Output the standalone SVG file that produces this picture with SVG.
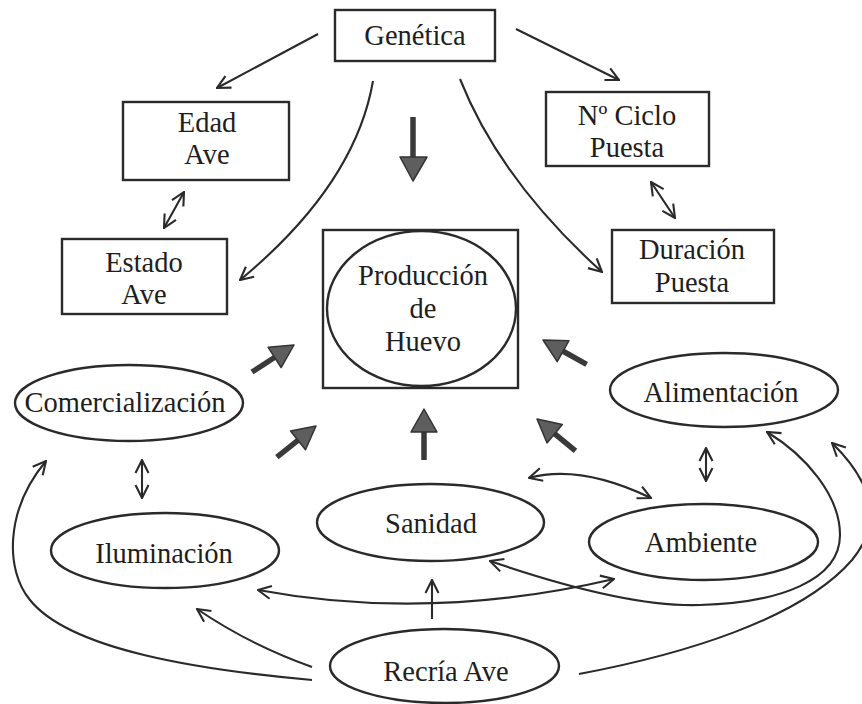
<svg xmlns="http://www.w3.org/2000/svg" width="862" height="704" viewBox="0 0 862 704">
<style>
  .box { fill: #fff; stroke: #2a2a2a; stroke-width: 2.4; }
  .ell { fill: none; stroke: #2a2a2a; stroke-width: 2.4; }
  .lbl { font-family: "Liberation Serif", "Times New Roman", serif; font-size: 28.5px; fill: #1e1e1e; text-anchor: middle; }
  .con { fill: none; stroke: #2a2a2a; stroke-width: 2.1; }
  .one { marker-end: url(#open); }
  .two { marker-start: url(#open); marker-end: url(#open); }
  .shaft { stroke: #3a3a3a; stroke-width: 5.5; }
  .head { fill: #5e5e5e; stroke: #333; stroke-width: 1.5; stroke-linejoin: round; }
</style>
<defs>
  <marker id="open" viewBox="0 0 16 16" refX="15" refY="8" markerWidth="16" markerHeight="16" markerUnits="userSpaceOnUse" orient="auto-start-reverse">
    <path d="M2,1.5 L15,8 L2,14.5" fill="none" stroke="#2a2a2a" stroke-width="2.1"/>
  </marker>
  <g id="bigArrow">
    <line class="shaft" x1="-50" y1="0" x2="-20" y2="0"/>
    <polygon class="head" points="0,0 -23,-12 -23,12"/>
  </g>
</defs>
<rect width="862" height="704" fill="#fff"/>

<g id="connectors">
  <line class="con one" x1="318" y1="34" x2="217" y2="88"/>
  <line class="con one" x1="516" y1="29" x2="619" y2="80"/>
  <path class="con one" d="M373,81 Q355,185 240,280"/>
  <path class="con one" d="M460,79 Q500,180 602,272"/>
  <line class="con two" x1="184" y1="192" x2="164" y2="228"/>
  <line class="con two" x1="651" y1="182" x2="675" y2="218"/>
  <line class="con two" x1="142" y1="460" x2="142" y2="498"/>
  <line class="con two" x1="706" y1="448" x2="706" y2="481"/>
  <path class="con two" d="M529,478 Q580,464 651,498"/>
  <path class="con two" d="M258,590 Q430,622 614,579"/>
  <line class="con one" x1="432" y1="619" x2="432" y2="580"/>
  <path class="con one" d="M312,667 Q250,645 197,609"/>
  <path class="con one" d="M312,680 C200,670 70,650 30,600 C5,570 5,510 46,461"/>
  <path class="con two" d="M490,561 C560,585 640,607 700,605 C780,603 840,580 840,535 C840,495 805,455 767,432"/>
  <path class="con one" d="M579,674 C680,655 800,620 852,560 C885,520 870,480 832,443"/>

  <g id="bigDown">
    <line class="shaft" x1="413" y1="117" x2="413" y2="160"/>
    <polygon class="head" points="413,181 400,157 427,157"/>
  </g>
  <use href="#bigArrow" transform="translate(294,345) rotate(-32.7)"/>
  <use href="#bigArrow" transform="translate(316,426) rotate(-38.5)"/>
  <g id="bigUp">
    <line class="shaft" x1="424" y1="460" x2="424" y2="428"/>
    <polygon class="head" points="424,409 411,432 437,432"/>
  </g>
  <use href="#bigArrow" transform="translate(543,340) rotate(-150.8)"/>
  <use href="#bigArrow" transform="translate(537,419) rotate(-140.3)"/>
</g>

<g id="genetica">
  <rect class="box" x="335" y="10" width="160" height="51"/>
  <text class="lbl" x="415" y="45">Genética</text>
</g>
<g id="edad-ave">
  <rect class="box" x="123" y="102" width="166" height="78"/>
  <text class="lbl" x="207" y="132">Edad</text>
  <text class="lbl" x="207" y="164">Ave</text>
</g>
<g id="estado-ave">
  <rect class="box" x="62" y="239" width="165" height="75"/>
  <text class="lbl" x="144" y="272">Estado</text>
  <text class="lbl" x="144" y="304">Ave</text>
</g>
<g id="ciclo-puesta">
  <rect class="box" x="546" y="92" width="163" height="74"/>
  <text class="lbl" x="627" y="125">Nº Ciclo</text>
  <text class="lbl" x="627" y="157">Puesta</text>
</g>
<g id="duracion-puesta">
  <rect class="box" x="612" y="230" width="162" height="73"/>
  <text class="lbl" x="692" y="259">Duración</text>
  <text class="lbl" x="692" y="292">Puesta</text>
</g>
<g id="produccion">
  <rect class="box" x="323" y="230" width="195" height="158"/>
  <ellipse class="ell" cx="421.5" cy="308.5" rx="94.5" ry="77.5"/>
  <text class="lbl" x="423" y="285">Producción</text>
  <text class="lbl" x="423" y="318">de</text>
  <text class="lbl" x="423" y="351">Huevo</text>
</g>
<g id="comercializacion">
  <ellipse class="ell" cx="129" cy="403" rx="114" ry="38"/>
  <text class="lbl" x="125" y="412">Comercialización</text>
</g>
<g id="iluminacion">
  <ellipse class="ell" cx="165" cy="550.5" rx="114" ry="37.5"/>
  <text class="lbl" x="164" y="563">Iluminación</text>
</g>
<g id="sanidad">
  <ellipse class="ell" cx="430.5" cy="522.5" rx="113.5" ry="38.5"/>
  <text class="lbl" x="431" y="533">Sanidad</text>
</g>
<g id="recria-ave">
  <ellipse class="ell" cx="444.5" cy="666" rx="114.5" ry="37"/>
  <text class="lbl" x="446" y="681">Recría Ave</text>
</g>
<g id="ambiente">
  <ellipse class="ell" cx="703.5" cy="542" rx="114.5" ry="38"/>
  <text class="lbl" x="701" y="552">Ambiente</text>
</g>
<g id="alimentacion">
  <ellipse class="ell" cx="724" cy="390" rx="114" ry="37"/>
  <text class="lbl" x="721" y="402">Alimentación</text>
</g>
</svg>
